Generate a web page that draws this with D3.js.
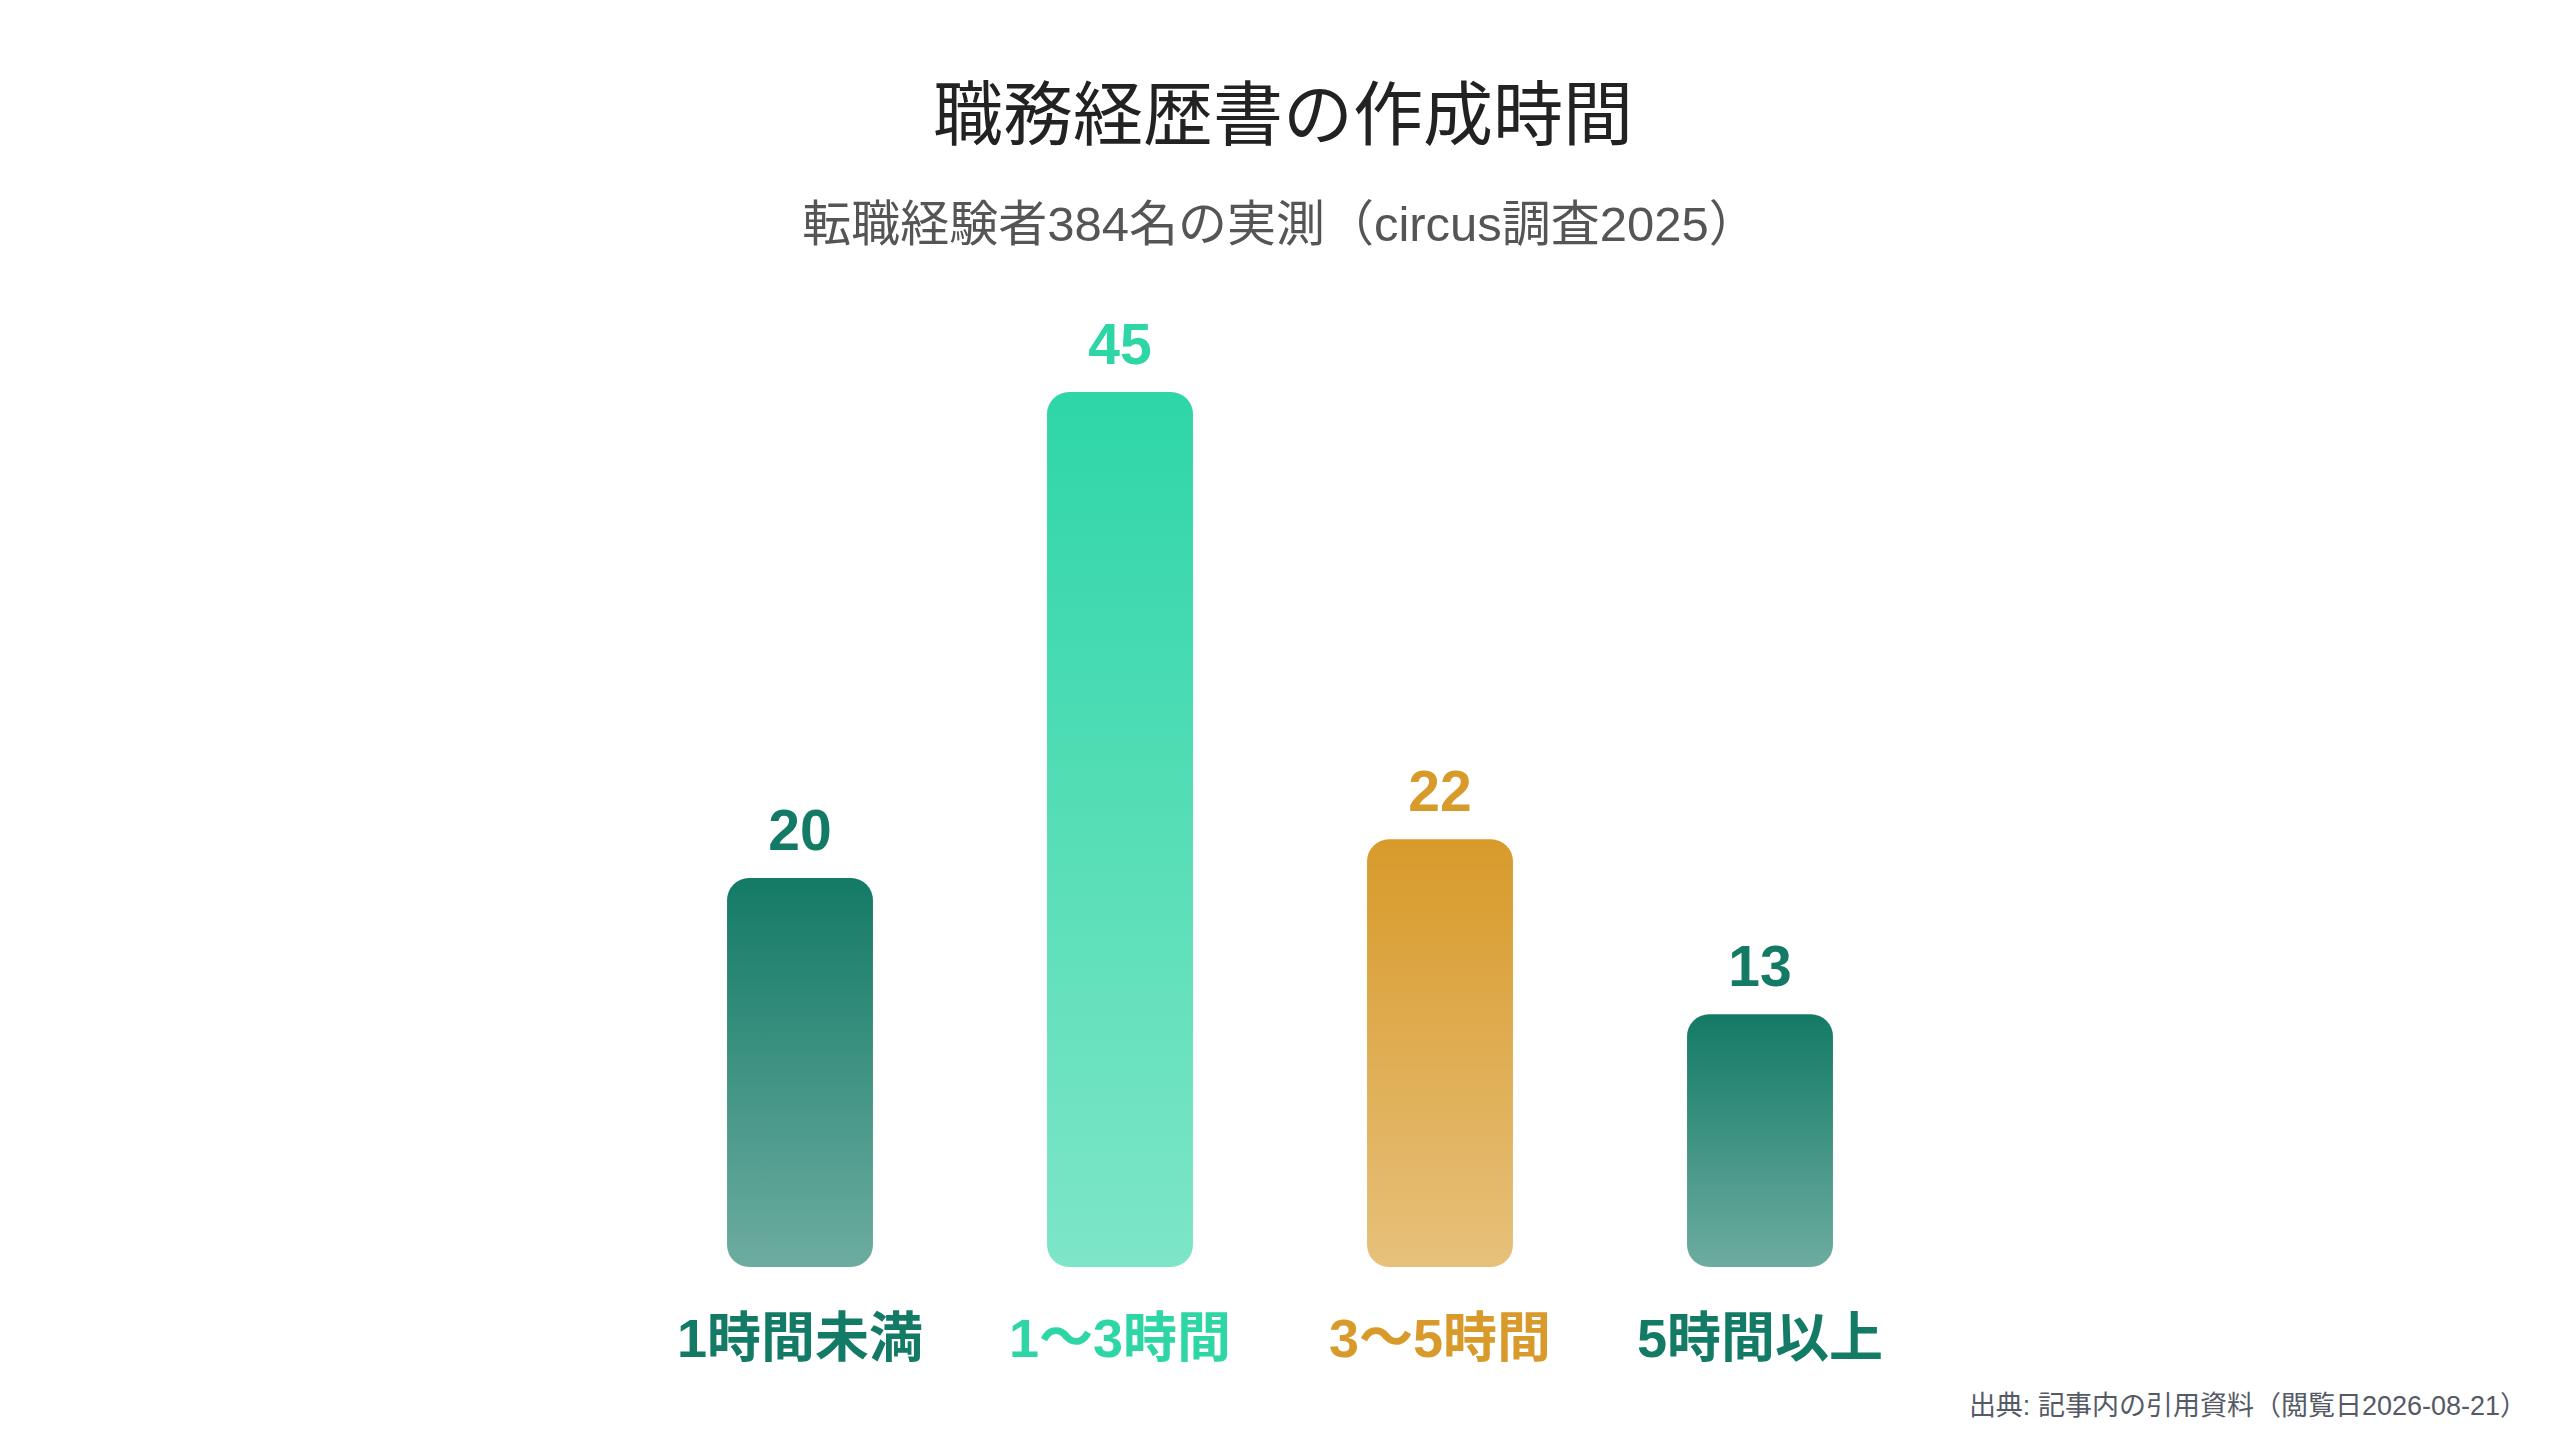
<!DOCTYPE html>
<html lang="ja">
<head>
<meta charset="utf-8">
<script src="https://cdn.jsdelivr.net/npm/d3@7"></script>
<style>
  html, body { margin: 0; padding: 0; background: #ffffff; }
  svg { display: block; font-family: "Liberation Sans", "Noto Sans CJK JP", sans-serif; }
</style>
</head>
<body>
<svg id="chart"></svg>
<script>
// Data
const categories = ["1時間未満", "1〜3時間", "3〜5時間", "5時間以上"];
const values = [20, 45, 22, 13];
const barColors = ["#137a66", "#2ed6a6", "#d89a2a", "#137a66"];

const title = "職務経歴書の作成時間";
const subtitle = "転職経験者384名の実測（circus調査2025）";
const source = "出典: 記事内の引用資料（閲覧日2026-08-21）";

const width = 2560;
const height = 1440;

const svg = d3.select("#chart")
  .attr("width", width)
  .attr("height", height);

// Scales
const x = d3.scaleBand()
  .domain(categories)
  .range([640, 1920])
  .paddingInner(0.544)
  .paddingOuter(0.272);

const y = d3.scaleLinear()
  .domain([0, 45])
  .range([1267, 392]);

// Gradients: full colour at top fading to lighter at bottom
const defs = svg.append("defs");
categories.forEach((c, i) => {
  const g = defs.append("linearGradient")
    .attr("id", "grad" + i)
    .attr("x1", 0).attr("y1", 0)
    .attr("x2", 0).attr("y2", 1);
  g.append("stop").attr("offset", "0%")
    .attr("stop-color", barColors[i]).attr("stop-opacity", 1);
  g.append("stop").attr("offset", "100%")
    .attr("stop-color", barColors[i]).attr("stop-opacity", 0.62);
});

// Title & subtitle
svg.append("text")
  .attr("x", 1283)
  .attr("y", 140)
  .attr("text-anchor", "middle")
  .attr("font-size", 70)
  .attr("font-weight", 400)
  .attr("fill", "#222222")
  .text(title);

svg.append("text")
  .attr("x", 1280)
  .attr("y", 241)
  .attr("text-anchor", "middle")
  .attr("font-size", 49)
  .attr("fill", "#555555")
  .text(subtitle);

// Bars
const bars = svg.append("g")
  .selectAll("g")
  .data(categories)
  .enter()
  .append("g");

bars.append("rect")
  .attr("x", d => x(d))
  .attr("y", (d, i) => y(values[i]))
  .attr("width", x.bandwidth())
  .attr("height", (d, i) => y(0) - y(values[i]))
  .attr("rx", 22)
  .attr("ry", 22)
  .attr("fill", (d, i) => `url(#grad${i})`);

// Value labels
bars.append("text")
  .attr("x", d => x(d) + x.bandwidth() / 2)
  .attr("y", (d, i) => y(values[i]) - 28)
  .attr("text-anchor", "middle")
  .attr("font-size", 57)
  .attr("font-weight", 700)
  .attr("fill", (d, i) => barColors[i])
  .text((d, i) => values[i]);

// Category labels
bars.append("text")
  .attr("x", d => x(d) + x.bandwidth() / 2)
  .attr("y", 1357)
  .attr("text-anchor", "middle")
  .attr("font-size", 54)
  .attr("font-weight", 700)
  .attr("fill", (d, i) => barColors[i])
  .text(d => d);

// Source
svg.append("text")
  .attr("x", 2527)
  .attr("y", 1415)
  .attr("text-anchor", "end")
  .attr("font-size", 27)
  .attr("fill", "#555a66")
  .text(source);
</script>
</body>
</html>
